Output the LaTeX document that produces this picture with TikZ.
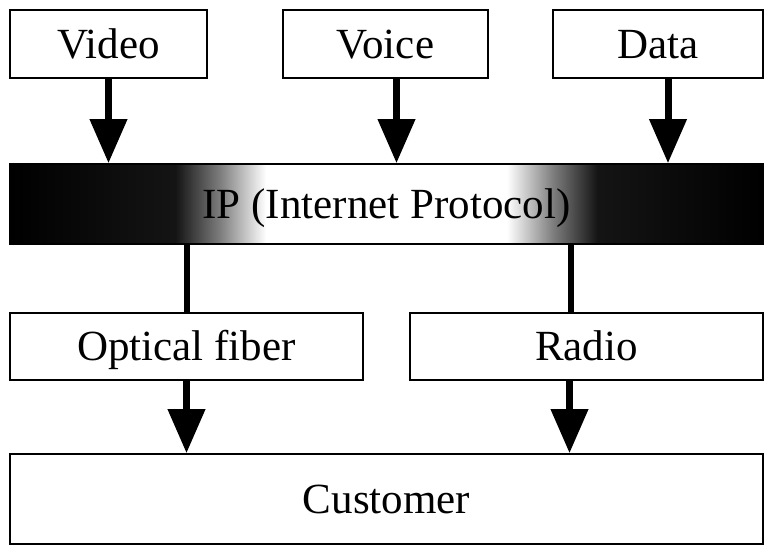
\documentclass[tikz,border=0pt]{standalone}
\usepackage{fontspec}
\setmainfont{Liberation Serif}
\usepackage{tikz}
\usetikzlibrary{arrows.meta}

\pgfdeclarehorizontalshading{ipshade}{100bp}{color(0bp)=(black); color(25bp)=(black);
  color(36bp)=(black!92); color(39bp)=(black!50); color(42bp)=(white); color(58bp)=(white);
  color(61bp)=(black!50); color(64bp)=(black!92); color(75bp)=(black); color(100bp)=(black)}

\begin{document}
\begin{tikzpicture}[x=1pt,y=-1pt,
  box/.style={draw, line width=1.6pt, inner sep=0pt, text height=28pt, text depth=0pt,
    font=\fontsize{43}{48}\selectfont},
  flow/.style={line width=7pt, -{Triangle[width=36pt,length=44pt]}},
  link/.style={line width=6pt}]
\useasboundingbox (0,0) rectangle (770,547);

\node[box, minimum width=197pt, minimum height=68pt] (video) at (108.5,44) {Video};
\node[box, minimum width=205pt, minimum height=68pt] (voice) at (385.5,44) {Voice};
\node[box, minimum width=210pt, minimum height=68pt] (data) at (658,44) {Data};

\node[box, shading=ipshade, minimum width=753pt, minimum height=80pt] (ip) at (386.5,204) {IP (Internet Protocol)};

\node[box, minimum width=353pt, minimum height=67pt] (fiber) at (186.5,346.5) {Optical fiber};
\node[box, minimum width=353pt, minimum height=67pt] (radio) at (586.5,346.5) {Radio};

\node[box, minimum width=753pt, minimum height=90pt] (customer) at (386.5,499) {Customer};

\draw[flow] (video.south) -- (video.south |- ip.north);
\draw[flow] ([xshift=11pt]voice.south) -- ([xshift=11pt]voice.south |- ip.north);
\draw[flow] ([xshift=10pt]data.south) -- ([xshift=10pt]data.south |- ip.north);

\draw[link] (fiber.north |- ip.south) -- (fiber.north);
\draw[link] ([xshift=-16pt]radio.north |- ip.south) -- ([xshift=-16pt]radio.north);

\draw[flow] (fiber.south) -- (fiber.south |- customer.north);
\draw[flow] ([xshift=-17pt]radio.south) -- ([xshift=-17pt]radio.south |- customer.north);
\end{tikzpicture}
\end{document}
